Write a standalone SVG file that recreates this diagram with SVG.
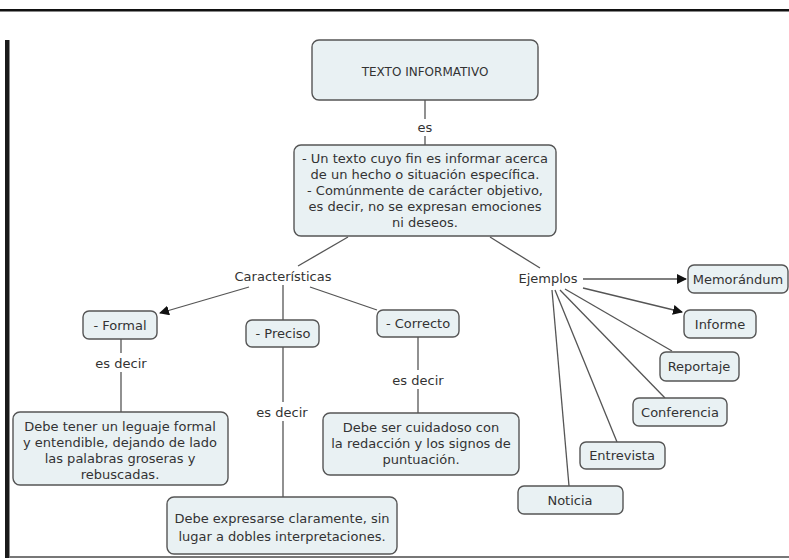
<svg xmlns="http://www.w3.org/2000/svg" width="789" height="560" viewBox="0 0 789 560">
<style>
.box{fill:#e9f1f3;stroke:#555;stroke-width:1.4}
.t{font-family:"DejaVu Sans",Verdana,sans-serif;font-size:13px;fill:#333;text-anchor:middle}
.c{stroke:#555;stroke-width:1.3;fill:none}
</style>
<defs>
<marker id="ah" viewBox="0 0 10 10" refX="9" refY="5" markerWidth="10" markerHeight="10" markerUnits="userSpaceOnUse" orient="auto">
<path d="M0,0 L10,5 L0,10 z" fill="#111"/>
</marker>
</defs>
<rect width="789" height="560" fill="#fff"/>
<rect x="0" y="9" width="789" height="2.5" fill="#111"/>
<rect x="5" y="40" width="4.5" height="518" fill="#1a1a1a"/>
<rect x="9" y="556" width="780" height="2" fill="#777"/>

<g id="connectors">
<line class="c" x1="425" y1="100" x2="425" y2="119"/>
<line class="c" x1="425" y1="136" x2="425" y2="145"/>
<line class="c" x1="348" y1="237" x2="298" y2="266"/>
<line class="c" x1="490" y1="237" x2="540" y2="268"/>
<line class="c" x1="249" y1="287" x2="160" y2="313" marker-end="url(#ah)"/>
<line class="c" x1="283" y1="285" x2="283" y2="320"/>
<line class="c" x1="310" y1="287" x2="377" y2="310"/>
<line class="c" x1="121" y1="339" x2="121" y2="353"/>
<line class="c" x1="121" y1="372" x2="121" y2="412"/>
<line class="c" x1="283" y1="347" x2="283" y2="402"/>
<line class="c" x1="283" y1="421" x2="283" y2="497"/>
<line class="c" x1="418" y1="337" x2="418" y2="370"/>
<line class="c" x1="418" y1="389" x2="418" y2="413"/>
<line class="c" x1="583" y1="279" x2="686" y2="279" marker-end="url(#ah)"/>
<line class="c" x1="583" y1="288" x2="682" y2="312" marker-end="url(#ah)"/>
<line class="c" x1="565" y1="289" x2="672" y2="351"/>
<line class="c" x1="560" y1="290" x2="665" y2="398"/>
<line class="c" x1="555" y1="290" x2="617" y2="442"/>
<line class="c" x1="552" y1="290" x2="569" y2="486"/>
</g>

<g class="t">
<text x="425" y="132">es</text>
<text x="283" y="281">Características</text>
<text x="548" y="283">Ejemplos</text>
<text x="121" y="368">es decir</text>
<text x="282" y="417">es decir</text>
<text x="418" y="385">es decir</text>
</g>

<g id="n-texto">
<rect class="box" x="312" y="40" width="226" height="60" rx="7"/>
<text class="t" x="425" y="76" style="font-size:12px">TEXTO INFORMATIVO</text>
</g>
<g id="n-def">
<rect class="box" x="294" y="145" width="262" height="91" rx="7"/>
<text class="t" x="425" y="163">- Un texto cuyo fin es informar acerca</text>
<text class="t" x="425" y="179">de un hecho o situación específica.</text>
<text class="t" x="425" y="195">-  Comúnmente de carácter objetivo,</text>
<text class="t" x="425" y="211">es decir, no se expresan emociones</text>
<text class="t" x="425" y="227">ni deseos.</text>
</g>
<g id="n-formal">
<rect class="box" x="83" y="311" width="74" height="28" rx="6"/>
<text class="t" x="120" y="330">- Formal</text>
</g>
<g id="n-preciso">
<rect class="box" x="246" y="320" width="73" height="27" rx="6"/>
<text class="t" x="283" y="338">- Preciso</text>
</g>
<g id="n-correcto">
<rect class="box" x="377" y="310" width="82" height="27" rx="6"/>
<text class="t" x="418" y="328">- Correcto</text>
</g>
<g id="n-formal-desc">
<rect class="box" x="13" y="412" width="215" height="73" rx="7"/>
<text class="t" x="120" y="431">Debe tener un leguaje formal</text>
<text class="t" x="120" y="447">y entendible, dejando de lado</text>
<text class="t" x="120" y="463">las palabras groseras y</text>
<text class="t" x="120" y="479">rebuscadas.</text>
</g>
<g id="n-preciso-desc">
<rect class="box" x="167" y="497" width="230" height="57" rx="7"/>
<text class="t" x="282" y="523">Debe expresarse claramente, sin</text>
<text class="t" x="282" y="541">lugar a dobles interpretaciones.</text>
</g>
<g id="n-correcto-desc">
<rect class="box" x="323" y="413" width="196" height="62" rx="7"/>
<text class="t" x="421" y="432">Debe ser cuidadoso con</text>
<text class="t" x="421" y="448">la redacción y los signos de</text>
<text class="t" x="421" y="464">puntuación.</text>
</g>
<g id="n-memorandum">
<rect class="box" x="688" y="265" width="100" height="28" rx="6"/>
<text class="t" x="738" y="284">Memorándum</text>
</g>
<g id="n-informe">
<rect class="box" x="684" y="310" width="72" height="28" rx="6"/>
<text class="t" x="720" y="329">Informe</text>
</g>
<g id="n-reportaje">
<rect class="box" x="660" y="352" width="79" height="29" rx="6"/>
<text class="t" x="699" y="371">Reportaje</text>
</g>
<g id="n-conferencia">
<rect class="box" x="633" y="398" width="94" height="28" rx="6"/>
<text class="t" x="680" y="417">Conferencia</text>
</g>
<g id="n-entrevista">
<rect class="box" x="580" y="442" width="85" height="27" rx="6"/>
<text class="t" x="622" y="460">Entrevista</text>
</g>
<g id="n-noticia">
<rect class="box" x="518" y="486" width="105" height="28" rx="6"/>
<text class="t" x="570" y="505">Noticia</text>
</g>
</svg>
